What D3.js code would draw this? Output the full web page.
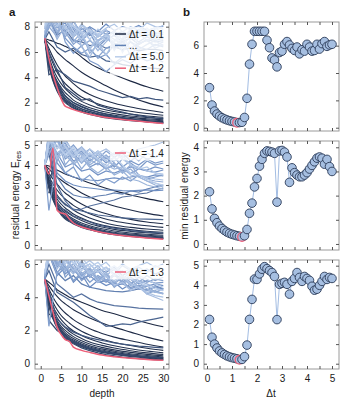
<!DOCTYPE html>
<html>
<head>
<meta charset="utf-8">
<script src="https://cdn.jsdelivr.net/npm/d3@7"></script>
<style>
  body { margin: 0; background: #fff; }
  text { font-family: "Liberation Sans", Arial, sans-serif; fill: #1a1a1a; }
</style>
</head>
<body>
<svg id="chart" width="342" height="402"></svg>
<script>

// ---- data ----
var dt = [0.1,0.2,0.3,0.4,0.5,0.6,0.7,0.8,0.9,1.0,
          1.1,1.2,1.3,1.4,1.5,1.6,1.7,1.8,1.9,2.0,
          2.1,2.2,2.3,2.4,2.5,2.6,2.7,2.8,2.9,3.0,
          3.1,3.2,3.3,3.4,3.5,3.6,3.7,3.8,3.9,4.0,
          4.1,4.2,4.3,4.4,4.5,4.6,4.7,4.8,4.9,5.0];

// min residual energy per dt (right column)
var minA = [2.93,1.66,1.22,1.0,0.85,0.73,0.64,0.57,0.51,0.46,
            0.42,0.36,0.38,0.40,0.75,2.15,4.65,6.1,7.05,7.05,
            7.05,7.05,7.05,6.4,5.85,5.1,4.95,4.45,5.5,5.6,
            6.1,6.3,6.05,5.8,5.65,5.9,5.4,5.7,5.6,6.1,
            5.9,5.6,5.65,6.1,5.75,6.15,6.3,5.95,6.05,6.1];
var minB = [2.16,1.45,1.06,0.88,0.74,0.64,0.56,0.49,0.44,0.40,
            0.37,0.34,0.32,0.29,0.34,0.60,1.27,1.69,2.36,2.71,
            3.22,3.50,3.75,3.85,3.83,3.80,3.75,1.73,3.85,3.87,
            3.80,3.60,2.55,3.15,2.95,2.85,2.78,2.78,2.85,2.95,
            3.10,3.25,3.40,3.55,3.60,3.55,3.30,3.50,3.20,3.00];
var minC = [2.26,1.35,1.0,0.8,0.65,0.55,0.47,0.4,0.35,0.31,
            0.28,0.25,0.2,0.22,0.36,0.95,2.26,3.28,4.32,4.3,
            4.58,4.82,4.95,4.85,4.75,4.65,4.45,2.25,4.05,4.1,
            4.15,4.05,3.55,4.2,4.35,4.65,4.4,4.2,4.45,4.35,
            4.25,3.95,3.75,3.8,4.0,4.2,4.45,4.3,4.4,4.35];

var bestDt = [1.2, 1.4, 1.3];

// residual energy vs depth (left column)
var depthSmooth = [1,2,3,4,5,6,7,8,10,12,15,18,22,26,30];
var depthJagged = [1,2,4,6,8,10,12,14,16,18,20,22,24,26,28,30];

// rows = dt 0.1, 0.2, ... up to the best dt
var smoothA = [
  [7.05,6.95,6.85,6.7,6.6,6.45,6.3,6.1,5.6,5.1,4.6,4.2,3.7,3.25,2.9],
  [7.0,6.7,6.4,6.0,5.7,5.4,5.15,4.9,4.4,4.0,3.5,3.0,2.45,2.0,1.66],
  [7.0,6.3,5.6,5.0,4.5,4.1,3.8,3.5,3.0,2.65,2.25,1.95,1.65,1.42,1.22],
  [7.0,6.0,5.1,4.4,3.9,3.5,3.2,2.9,2.45,2.15,1.8,1.55,1.32,1.14,1.0],
  [7.0,5.7,4.7,4.0,3.5,3.1,2.8,2.5,2.1,1.82,1.5,1.3,1.1,0.95,0.85],
  [7.0,5.5,4.4,3.7,3.2,2.8,2.5,2.2,1.85,1.6,1.32,1.13,0.95,0.83,0.73],
  [7.0,5.3,4.2,3.5,2.95,2.55,2.25,2.0,1.65,1.42,1.17,1.0,0.84,0.73,0.64],
  [7.05,5.2,4.0,3.3,2.75,2.35,2.08,1.85,1.52,1.3,1.06,0.9,0.75,0.65,0.57],
  [7.05,5.1,3.9,3.15,2.6,2.2,1.94,1.72,1.4,1.2,0.97,0.82,0.68,0.58,0.51],
  [7.05,5.0,3.8,3.0,2.45,2.1,1.84,1.62,1.32,1.12,0.9,0.75,0.62,0.53,0.46],
  [7.1,4.9,3.7,2.9,2.35,2.0,1.76,1.55,1.26,1.06,0.85,0.71,0.58,0.49,0.42],
  [7.1,5.5,4.2,3.2,2.3,1.72,1.58,1.45,1.25,1.08,0.88,0.74,0.6,0.47,0.36]
];
var jaggedDtA = [1.3,1.4,1.5,1.6,1.7,1.8,1.9,2.2,2.6,3.0,3.4,3.8,4.2,4.5,4.8,5.0,
                 2.0,2.4,2.8,3.2,3.6,4.0,4.4,4.6];
var jaggedA = [
  [7.1,5.2,3.4,2.2,1.8,1.5,1.3,1.1,0.95,0.82,0.72,0.63,0.55,0.48,0.42,0.38],
  [7.1,4.8,3.6,2.5,2.0,1.7,1.45,1.25,1.08,0.93,0.8,0.69,0.6,0.52,0.45,0.4],
  [7.0,4.2,4.6,3.2,2.7,2.2,2.3,1.8,1.6,1.4,1.25,1.1,0.98,0.88,0.8,0.75],
  [7.0,6.0,4.6,4.2,3.7,3.5,3.3,3.0,2.8,2.6,2.4,2.5,2.3,2.4,2.25,2.2],
  [7.0,7.6,6.4,6.0,6.3,5.8,5.6,5.7,5.3,5.2,5.0,4.9,4.8,4.75,4.7,4.65],
  [7.0,8.6,7.3,7.8,6.9,6.8,6.5,6.6,6.3,6.4,6.2,6.3,6.1,6.2,6.2,6.1],
  [7.05,8.9,7.6,8.6,7.5,7.9,7.3,7.7,7.4,7.6,7.3,7.5,7.2,7.4,7.3,7.2],
  [7.05,9.2,7.9,8.3,7.2,7.8,7.9,7.2,7.7,7.4,7.6,7.3,7.6,7.3,7.5,7.4],
  [7.1,8.5,8.8,7.1,6.4,5.9,6.3,5.5,5.8,5.1,5.6,5.9,5.4,5.8,6.0,5.7],
  [7.3,7.9,9.0,7.6,6.6,7.2,6.2,5.6,6.3,6.6,6.1,6.8,6.4,6.2,6.6,6.4],
  [7.5,8.0,7.2,8.9,7.0,6.5,6.9,6.4,5.8,6.5,6.8,6.3,6.7,6.9,6.5,6.8],
  [7.6,8.6,7.0,8.1,8.5,7.3,6.3,6.9,7.2,6.5,7.0,5.7,6.6,7.0,6.3,6.6],
  [7.8,9.0,8.2,7.4,8.8,6.4,5.6,6.8,7.4,7.0,6.6,7.2,7.5,6.9,7.3,7.1],
  [8.0,8.4,8.9,7.8,7.2,8.1,7.6,6.8,5.75,6.9,7.5,7.1,7.8,7.4,7.0,7.6],
  [8.1,9.1,8.0,9.0,7.6,7.0,7.8,7.4,6.9,7.7,5.95,7.0,7.6,7.9,7.3,7.8],
  [8.2,8.7,9.3,8.5,8.0,7.6,7.0,7.8,7.3,6.8,7.4,6.1,7.2,7.7,7.9,7.5],
  [7.05,9.0,8.1,7.6,8.4,7.5,8.0,7.6,8.2,7.7,8.0,7.8,8.1,7.7,7.9,8.0],
  [7.1,8.7,7.4,9.1,7.8,6.9,7.5,6.4,7.0,7.3,6.8,7.1,6.6,7.0,6.8,6.9],
  [7.2,8.0,9.2,6.8,5.9,6.5,5.3,5.0,4.45,5.0,5.4,5.1,5.6,5.3,5.5,5.2],
  [7.4,9.0,8.3,7.2,8.0,7.1,7.6,6.9,7.4,6.3,7.0,7.3,6.8,7.2,6.9,7.1],
  [7.6,8.2,9.1,7.5,6.8,7.6,5.9,6.6,7.1,6.7,6.4,6.8,6.2,6.6,6.9,6.5],
  [7.8,8.8,7.6,8.7,7.3,7.9,7.0,6.1,6.8,7.4,7.0,7.7,7.2,7.6,7.3,7.0],
  [7.9,9.3,8.5,8.0,7.4,8.2,7.7,7.2,7.8,6.1,7.1,7.8,8.0,7.5,7.8,8.1],
  [8.0,8.6,9.4,8.7,8.1,7.5,6.15,7.4,7.9,8.2,7.6,8.0,7.7,8.3,8.0,7.8]
];

var smoothB = [
  [4.0,3.95,3.85,3.75,3.65,3.55,3.47,3.4,3.25,3.1,2.9,2.72,2.5,2.32,2.16],
  [4.0,3.8,3.6,3.4,3.25,3.1,2.97,2.85,2.6,2.4,2.15,1.95,1.75,1.58,1.45],
  [4.0,3.6,3.3,3.05,2.8,2.6,2.45,2.3,2.05,1.85,1.62,1.45,1.28,1.15,1.06],
  [4.0,3.45,3.05,2.75,2.5,2.3,2.14,1.98,1.75,1.56,1.35,1.2,1.06,0.96,0.88],
  [4.0,3.3,2.85,2.5,2.25,2.05,1.9,1.75,1.52,1.35,1.15,1.0,0.88,0.8,0.74],
  [4.0,3.2,2.7,2.3,2.05,1.85,1.7,1.55,1.35,1.18,1.0,0.88,0.77,0.69,0.64],
  [4.0,3.1,2.55,2.15,1.9,1.7,1.55,1.42,1.22,1.06,0.9,0.78,0.68,0.61,0.56],
  [4.0,3.0,2.45,2.05,1.78,1.58,1.43,1.3,1.1,0.96,0.81,0.7,0.6,0.54,0.49],
  [4.0,2.95,2.35,1.95,1.68,1.48,1.34,1.22,1.03,0.9,0.75,0.64,0.55,0.49,0.44],
  [4.0,2.9,2.3,1.88,1.6,1.4,1.27,1.15,0.97,0.84,0.7,0.6,0.51,0.45,0.4],
  [4.0,2.85,2.25,1.82,1.55,1.35,1.22,1.1,0.92,0.8,0.66,0.56,0.47,0.41,0.37],
  [4.0,2.6,2.9,1.9,1.5,1.3,1.17,1.05,0.88,0.76,0.62,0.53,0.44,0.38,0.34],
  [4.0,3.0,3.8,2.0,1.6,1.4,1.25,1.1,0.9,0.78,0.63,0.52,0.43,0.36,0.32],
  [4.0,3.55,4.85,1.75,1.6,1.55,1.3,1.1,0.9,0.78,0.62,0.52,0.42,0.35,0.29]
];
var jaggedDtB = [1.5,1.6,1.7,1.8,2.0,2.3,2.6,2.8,3.1,3.4,3.8,4.2,4.4,4.6,5.0,
                 1.9,2.1,2.2,2.5,3.0,3.6,4.0,4.8];
var jaggedB = [
  [4.0,3.5,2.0,1.6,1.2,0.98,0.85,0.74,0.64,0.56,0.5,0.45,0.41,0.38,0.36,0.34],
  [4.0,5.3,1.9,1.75,1.45,1.3,1.15,1.0,0.92,0.84,0.78,0.72,0.68,0.64,0.62,0.6],
  [4.0,4.6,2.4,2.0,1.8,1.7,1.6,1.5,1.45,1.4,1.36,1.33,1.3,1.29,1.28,1.27],
  [4.0,5.0,3.0,2.2,1.75,1.8,1.95,2.05,2.15,2.25,2.4,2.45,2.55,2.6,2.75,2.85],
  [4.0,5.5,3.6,3.2,3.0,2.9,2.85,2.8,2.75,2.75,2.72,2.71,2.73,2.75,2.72,2.74],
  [4.0,5.4,4.5,4.8,4.2,4.4,3.9,4.1,3.8,4.0,3.7,3.9,3.8,3.75,3.9,3.8],
  [4.0,4.9,5.5,4.3,4.6,4.1,4.5,4.2,4.4,3.9,4.3,4.1,3.8,4.2,4.0,4.1],
  [4.0,1.73,4.4,3.6,3.9,3.2,3.5,3.0,3.3,3.1,3.4,3.2,3.5,3.3,3.4,3.5],
  [4.0,5.6,4.2,5.3,4.6,4.9,4.4,4.7,4.3,4.6,4.4,4.5,4.2,4.6,4.4,4.5],
  [4.0,4.5,5.4,4.0,4.5,3.8,4.3,4.0,4.5,4.1,3.6,4.0,3.5,3.3,3.2,3.15],
  [4.0,5.3,4.6,4.9,4.0,4.4,3.9,3.6,3.9,3.5,3.7,3.3,3.2,3.0,2.9,2.8],
  [4.0,5.0,5.6,4.4,4.8,4.5,4.1,4.6,4.2,4.0,3.8,3.6,3.5,3.4,3.3,3.25],
  [4.0,5.4,4.3,4.7,4.4,4.9,4.5,4.6,4.8,4.5,4.7,4.6,4.8,4.9,5.0,5.15],
  [4.0,5.5,4.8,5.2,4.7,4.3,4.8,4.5,4.2,4.6,4.3,4.0,3.9,3.7,3.6,3.55],
  [4.0,5.2,5.0,4.5,4.9,4.2,4.6,4.3,3.9,4.4,4.0,3.6,3.5,3.3,3.1,3.0],
  [4.0,5.2,3.4,2.8,2.5,2.4,2.36,2.45,2.5,2.6,2.55,2.7,2.65,2.8,2.9,3.0],
  [4.0,5.6,4.1,3.6,3.4,3.3,3.25,3.22,3.3,3.35,3.3,3.4,3.45,3.4,3.5,3.45],
  [4.0,5.3,4.6,3.9,4.1,3.7,3.8,3.5,3.7,3.6,3.75,3.6,3.8,3.7,3.65,3.75],
  [4.0,5.7,4.9,5.1,4.4,4.7,4.2,4.5,4.1,4.4,3.9,4.2,4.0,4.3,4.1,4.2],
  [4.0,5.4,5.9,4.6,5.0,4.5,4.8,4.3,4.7,4.4,4.6,4.2,4.5,4.3,4.4,4.6],
  [4.0,4.8,5.2,4.5,4.1,4.6,4.0,4.3,3.8,4.1,3.6,3.8,3.4,3.2,3.0,2.9],
  [4.0,5.8,4.4,5.0,4.5,4.1,4.6,4.2,4.0,3.8,3.9,3.5,3.4,3.2,3.1,2.95],
  [4.0,5.1,5.7,4.9,4.4,4.8,4.3,4.7,4.4,4.2,4.5,4.0,3.8,3.9,3.6,3.5]
];

var smoothC = [
  [5.1,4.9,4.7,4.45,4.3,4.15,4.0,3.9,3.7,3.5,3.2,3.0,2.7,2.45,2.22],
  [5.1,4.7,4.35,4.05,3.8,3.6,3.42,3.25,2.98,2.75,2.45,2.2,1.9,1.6,1.37],
  [5.1,4.5,4.0,3.6,3.3,3.05,2.85,2.65,2.35,2.1,1.82,1.6,1.38,1.17,1.0],
  [5.1,4.3,3.7,3.25,2.9,2.65,2.45,2.25,1.95,1.72,1.47,1.28,1.09,0.93,0.8],
  [5.1,4.1,3.45,3.0,2.65,2.38,2.15,1.97,1.7,1.48,1.25,1.08,0.9,0.76,0.65],
  [5.1,3.95,3.25,2.78,2.43,2.17,1.95,1.78,1.52,1.31,1.1,0.94,0.78,0.65,0.55],
  [5.1,3.85,3.1,2.6,2.25,2.0,1.8,1.63,1.38,1.18,0.98,0.83,0.68,0.56,0.47],
  [5.1,3.75,3.0,2.48,2.12,1.87,1.67,1.51,1.27,1.08,0.89,0.75,0.6,0.49,0.4],
  [5.1,3.65,2.9,2.38,2.02,1.77,1.57,1.42,1.18,1.0,0.82,0.68,0.54,0.43,0.35],
  [5.1,3.6,2.82,2.3,1.95,1.7,1.5,1.35,1.12,0.94,0.76,0.63,0.5,0.39,0.31],
  [5.1,3.55,2.75,2.22,1.88,1.63,1.44,1.29,1.06,0.89,0.72,0.59,0.46,0.36,0.28],
  [5.1,3.5,2.7,2.15,1.82,1.57,1.4,1.24,1.02,0.85,0.68,0.55,0.43,0.33,0.25],
  [5.08,4.1,3.1,2.2,1.75,1.45,1.35,1.0,0.8,0.68,0.52,0.42,0.32,0.25,0.2]
];
var jaggedDtC = [1.4,1.5,1.6,1.7,1.8,2.0,2.3,2.7,2.8,3.2,3.6,4.0,4.3,4.7,5.0,
                 1.9,2.1,2.5,3.0,3.4,3.8,4.5,4.9];
var jaggedC = [
  [5.1,3.0,2.5,1.5,1.2,0.95,0.78,0.65,0.55,0.47,0.4,0.35,0.3,0.27,0.24,0.22],
  [5.1,2.6,2.0,1.7,1.35,1.1,0.92,0.8,0.7,0.62,0.55,0.5,0.45,0.41,0.38,0.36],
  [5.1,4.4,2.7,2.2,1.9,1.7,1.55,1.45,1.35,1.25,1.18,1.12,1.06,1.02,0.98,0.95],
  [5.1,5.6,4.3,4.0,3.7,3.3,2.9,2.6,2.25,2.3,2.4,2.35,2.5,2.6,2.7,2.8],
  [5.1,6.0,4.8,4.4,4.0,4.2,3.9,3.7,3.6,3.5,3.45,3.4,3.35,3.32,3.3,3.28],
  [5.1,6.6,5.3,5.8,4.9,5.4,4.6,5.0,4.7,4.9,4.5,4.8,4.6,4.4,4.7,4.5],
  [5.1,6.9,6.0,6.5,5.6,5.9,5.4,5.7,5.5,5.8,5.3,5.6,5.5,5.7,5.4,5.6],
  [5.2,6.4,6.8,5.2,5.8,5.0,5.4,5.2,4.9,5.3,5.1,4.8,5.2,4.9,5.1,5.0],
  [5.1,2.25,5.5,5.9,5.0,5.5,4.9,5.3,5.0,5.4,5.1,5.2,4.9,5.3,5.0,5.2],
  [5.3,6.6,5.4,6.3,5.6,5.2,5.7,5.0,5.4,4.8,5.2,4.9,4.5,4.7,4.3,4.5],
  [5.3,7.0,6.1,5.5,6.5,5.7,6.0,5.5,5.8,5.4,5.9,5.6,5.8,5.5,5.9,5.7],
  [5.4,6.5,6.9,5.9,5.4,6.2,5.5,5.9,5.3,5.7,5.1,5.5,5.0,4.8,4.6,4.4],
  [5.4,6.8,5.7,6.4,5.8,5.2,5.6,4.9,5.3,4.7,4.9,4.4,4.6,4.2,4.0,3.8],
  [5.5,6.2,7.0,6.0,6.6,5.9,6.2,5.8,6.1,5.6,6.0,5.7,5.9,6.1,5.8,6.0],
  [5.5,6.9,6.3,6.8,6.0,6.4,5.8,6.1,5.6,5.9,5.5,5.7,5.3,5.1,4.8,4.6],
  [5.1,6.8,5.5,5.0,5.3,4.8,4.6,4.5,4.4,4.35,4.32,4.4,4.5,4.45,4.6,4.5],
  [5.1,6.5,6.1,5.4,5.8,5.1,5.3,4.9,5.0,4.7,4.8,4.6,4.7,4.65,4.8,4.7],
  [5.2,7.0,5.8,6.3,5.5,6.0,5.2,5.6,5.0,5.4,4.9,5.2,4.8,5.0,4.85,4.9],
  [5.3,6.3,7.1,5.6,6.0,5.3,5.7,4.9,5.3,4.6,5.0,4.5,4.7,4.2,4.4,4.2],
  [5.3,6.9,5.9,6.6,5.5,6.1,5.2,5.6,5.0,5.4,4.8,5.1,4.6,4.4,4.3,4.25],
  [5.4,7.2,6.2,5.7,6.3,5.4,5.8,5.1,5.5,4.9,5.2,4.7,4.9,4.5,4.3,4.2],
  [5.5,6.6,6.9,6.2,5.6,6.0,5.4,5.7,5.2,5.0,5.3,4.8,4.6,4.3,4.1,4.0],
  [5.5,7.0,6.4,6.7,6.1,5.6,6.0,5.5,5.8,5.3,5.6,5.1,4.9,4.7,4.5,4.4]
];

// ticks
var depthTicks = [0,5,10,15,20,25,30];
var dtTicks = [0,0.5,1,1.5,2,2.5,3,3.5,4,4.5,5];
var yTicksLeft = [[0,2,4,6,8],[0,1,2,3,4,5],[0,2,4,6]];
var yTicksRight = [[0,2,4,6],[0,1,2,3,4],[0,1,2,3,4,5]];

// ---- layout ----
var svg = d3.select("#chart");
var leftX = [35, 169], rightX = [204, 339];
var rowTop = [22, 141, 260], rowBottom = [131, 250, 369];
var yDomLeft = [[-0.24, 8.37], [-0.25, 5.2], [-0.32, 6.24]];
var yDomRight = [[-0.24, 7.73], [-0.25, 4.26], [-0.27, 5.29]];

var red = "#ec5f78";
var color = d3.scaleLinear()
    .domain([0.1, 1.5, 2.0, 5.0])
    .range(["#1b2742", "#34496e", "#6e8ec2", "#b9cdea"]);

var xDepth = d3.scaleLinear().domain([-1.4, 31.4]).range(leftX);
var xDt = d3.scaleLinear().domain([-0.12, 5.28]).range(rightX);

var panels = [
  {smooth: smoothA, jDt: jaggedDtA, jagged: jaggedA, minE: minA},
  {smooth: smoothB, jDt: jaggedDtB, jagged: jaggedB, minE: minB},
  {smooth: smoothC, jDt: jaggedDtC, jagged: jaggedC, minE: minC}
];

function styleAxis(g) {
  g.select(".domain").remove();
  g.selectAll(".tick line").attr("stroke", "#555");
  g.selectAll(".tick text")
    .attr("fill", "#1a1a1a")
    .style("font-family", "'Liberation Sans', Arial, sans-serif")
    .style("font-size", "10px");
}

function drawAxes(xs, ys, xticks, yticks, xfmt, x0, x1, y0, y1) {
  svg.append("rect")
    .attr("x", x0).attr("y", y0)
    .attr("width", x1 - x0).attr("height", y1 - y0)
    .attr("fill", "none").attr("stroke", "#9a9a9a").attr("stroke-width", 1);

  svg.append("g").attr("transform", "translate(" + x0 + ",0)")
    .call(d3.axisLeft(ys).tickValues(yticks).tickSize(-3).tickPadding(5).tickFormat(d3.format("d")))
    .call(styleAxis);
  svg.append("g").attr("transform", "translate(" + x1 + ",0)")
    .call(d3.axisRight(ys).tickValues(yticks).tickSize(-3).tickFormat(""))
    .call(styleAxis);
  svg.append("g").attr("transform", "translate(0," + y0 + ")")
    .call(d3.axisTop(xs).tickValues(xticks).tickSize(-3).tickFormat(""))
    .call(styleAxis);
  svg.append("g").attr("transform", "translate(0," + y1 + ")")
    .call(d3.axisBottom(xs).tickValues(xticks).tickSize(-3).tickPadding(6).tickFormat(xfmt))
    .call(styleAxis);
}

panels.forEach(function(p, i) {
  var y0 = rowTop[i], y1 = rowBottom[i];
  var yL = d3.scaleLinear().domain(yDomLeft[i]).range([y1, y0]);
  var yR = d3.scaleLinear().domain(yDomRight[i]).range([y1, y0]);
  var last = (i === 2);

  // left: residual energy vs depth
  svg.append("clipPath").attr("id", "clip" + i).append("rect")
    .attr("x", leftX[0]).attr("y", y0)
    .attr("width", leftX[1] - leftX[0]).attr("height", y1 - y0);
  var gl = svg.append("g").attr("clip-path", "url(#clip" + i + ")");

  var smoothLine = d3.line().curve(d3.curveMonotoneX)
      .x(function(d) { return xDepth(d[0]); })
      .y(function(d) { return yL(d[1]); });
  var jagLine = d3.line()
      .x(function(d) { return xDepth(d[0]); })
      .y(function(d) { return yL(d[1]); });

  var bestRow = null;
  p.smooth.forEach(function(vals, k) {
    var pts = depthSmooth.map(function(d, j) { return [d, vals[j]]; });
    if (dt[k] === bestDt[i]) { bestRow = pts; return; }
    gl.append("path").datum(pts)
      .attr("d", smoothLine)
      .attr("fill", "none")
      .attr("stroke", color(dt[k]))
      .attr("stroke-width", 1.1);
  });

  // jagged curves, drawn from small to large dt so the light ones sit on top
  var jag = p.jagged.map(function(vals, k) { return {dt: p.jDt[k], vals: vals}; })
    .sort(function(a, b) { return a.dt - b.dt; });
  jag.forEach(function(c) {
    var pts = depthJagged.map(function(d, j) { return [d, c.vals[j]]; });
    gl.append("path").datum(pts)
      .attr("d", jagLine)
      .attr("fill", "none")
      .attr("stroke", color(c.dt))
      .attr("stroke-width", 1.25);
  });

  gl.append("path").datum(bestRow)
    .attr("d", smoothLine)
    .attr("fill", "none")
    .attr("stroke", red)
    .attr("stroke-width", 1.5);

  // legend
  var lg = svg.append("g");
  var entries;
  if (i === 0) {
    entries = [
      {label: "\u0394t = 0.1", c: color(0.1)},
      {label: "...", c: "#5f80b4"},
      {label: "\u0394t = 5.0", c: color(5.0)},
      {label: "\u0394t = " + bestDt[i].toFixed(1), c: red}
    ];
  } else {
    entries = [{label: "\u0394t = " + bestDt[i].toFixed(1), c: red}];
  }
  var ly0 = y0 + 12;
  lg.append("rect")
    .attr("x", 110).attr("y", ly0 - 7)
    .attr("width", 57).attr("height", entries.length * 11.4 + 3)
    .attr("fill", "#fff").attr("fill-opacity", 0.78);
  entries.forEach(function(e, k) {
    var yy = ly0 + k * 11.4;
    lg.append("line")
      .attr("x1", 115).attr("x2", 126).attr("y1", yy).attr("y2", yy)
      .attr("stroke", e.c).attr("stroke-width", 1.5);
    lg.append("text")
      .attr("x", 129).attr("y", yy).attr("dy", "0.35em")
      .style("font-size", "10px")
      .text(e.label);
  });

  drawAxes(xDepth, yL, depthTicks, yTicksLeft[i],
           last ? d3.format("d") : function() { return ""; },
           leftX[0], leftX[1], y0, y1);

  // right: min residual energy vs dt
  var pts = dt.map(function(d, k) { return [d, p.minE[k]]; });
  svg.append("path").datum(pts)
    .attr("d", d3.line().x(function(d) { return xDt(d[0]); }).y(function(d) { return yR(d[1]); }))
    .attr("fill", "none")
    .attr("stroke", "#a3bde3")
    .attr("stroke-width", 1);

  svg.append("g").selectAll("circle")
    .data(pts)
    .enter().append("circle")
    .attr("cx", function(d) { return xDt(d[0]); })
    .attr("cy", function(d) { return yR(d[1]); })
    .attr("r", 4.3)
    .attr("fill", "#a6bfe1")
    .attr("stroke", function(d) { return d[0] === bestDt[i] ? red : "#2b3b58"; })
    .attr("stroke-width", function(d) { return d[0] === bestDt[i] ? 1.3 : 0.9; });

  drawAxes(xDt, yR, dtTicks, yTicksRight[i],
           last ? function(d) { return Number.isInteger(d) ? d : ""; } : function() { return ""; },
           rightX[0], rightX[1], y0, y1);
});

// titles
svg.append("text").attr("x", 9).attr("y", 16)
  .style("font-size", "11.5px").style("font-weight", "bold").text("a");
svg.append("text").attr("x", 183).attr("y", 16)
  .style("font-size", "11.5px").style("font-weight", "bold").text("b");

var yl = svg.append("text")
  .attr("transform", "translate(19,195) rotate(-90)")
  .attr("text-anchor", "middle")
  .style("font-size", "10px");
yl.append("tspan").text("residual energy E");
yl.append("tspan").attr("dy", "0.3em").style("font-size", "7.5px").text("res");

svg.append("text")
  .attr("transform", "translate(188,196) rotate(-90)")
  .attr("text-anchor", "middle")
  .style("font-size", "10px")
  .text("min residual energy");

svg.append("text").attr("x", 102).attr("y", 397)
  .attr("text-anchor", "middle").style("font-size", "10px").text("depth");
svg.append("text").attr("x", 271).attr("y", 397)
  .attr("text-anchor", "middle").style("font-size", "10px").text("\u0394t");

</script>
</body>
</html>
